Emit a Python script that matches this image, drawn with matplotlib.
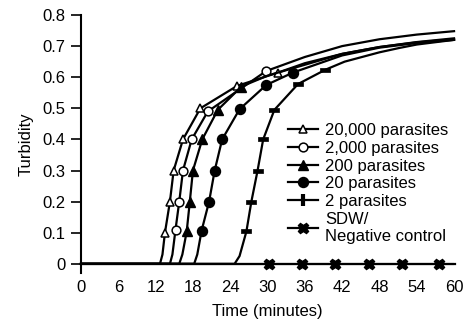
import matplotlib
matplotlib.use('Agg')
import matplotlib.pyplot as plt
from matplotlib.lines import Line2D

plt.rcParams['font.family'] = ['Liberation Sans', 'DejaVu Sans']
plt.rcParams['font.size'] = 12

# Datos (tiempo en minutos, turbidez)
t_20000 = [0, 12.7, 13.1, 13.5, 14.3, 14.9, 16.4, 19.2, 25.1, 31.7, 36, 42, 48, 54, 60]
y_20000 = [0, 0, 0.03, 0.10, 0.20, 0.30, 0.40, 0.50, 0.572, 0.615, 0.645, 0.675, 0.697, 0.713, 0.725]
m_20000 = [3, 4, 5, 6, 7, 8, 9]

t_2000 = [0, 14.3, 14.7, 15.2, 15.8, 16.4, 17.8, 20.4, 29.8, 36, 42, 48, 54, 60]
y_2000 = [0, 0, 0.03, 0.11, 0.20, 0.30, 0.40, 0.49, 0.62, 0.665, 0.70, 0.722, 0.737, 0.748]
m_2000 = [3, 4, 5, 6, 7, 8]

t_200 = [0, 15.8, 16.3, 17.0, 17.5, 18.0, 19.5, 22.0, 25.8, 30, 36, 42, 48, 54, 60]
y_200 = [0, 0, 0.03, 0.104, 0.20, 0.30, 0.40, 0.495, 0.57, 0.605, 0.64, 0.675, 0.697, 0.712, 0.722]
m_200 = [3, 4, 5, 6, 7, 8]

t_20 = [0, 18.2, 18.7, 19.4, 20.6, 21.5, 22.7, 25.5, 29.8, 34.1, 42, 48, 54, 60]
y_20 = [0, 0, 0.03, 0.107, 0.20, 0.30, 0.40, 0.497, 0.575, 0.615, 0.67, 0.695, 0.71, 0.72]
m_20 = [3, 4, 5, 6, 7, 8, 9]

t_2 = [0, 24.7, 25.5, 26.6, 27.4, 28.4, 29.3, 31.1, 34.9, 39.3, 42.4, 48, 51.2, 54, 60]
y_2 = [0, 0, 0.025, 0.104, 0.20, 0.30, 0.40, 0.495, 0.578, 0.624, 0.65, 0.68, 0.694, 0.705, 0.72]
m_2 = [3, 4, 5, 6, 7, 8, 9]

t_neg = [0, 30.3, 35.6, 40.9, 46.3, 51.6, 57.5, 60.2]
y_neg = [0, 0, 0, 0, 0, 0, 0, 0]
m_neg = [1, 2, 3, 4, 5, 6]

etiquetas = ['20,000 parasites', '2,000 parasites', '200 parasites',
             '20 parasites', '2 parasites', 'SDW/\nNegative control']

x_ticks = [0, 6, 12, 18, 24, 30, 36, 42, 48, 54, 60]
y_ticks = [0, 0.1, 0.2, 0.3, 0.4, 0.5, 0.6, 0.7, 0.8]
y_tick_labels = ['0', '0.1', '0.2', '0.3', '0.4', '0.5', '0.6', '0.7', '0.8']

# Marcador rectangular para "2 parasites"
dash = [(-1, -0.38), (1, -0.38), (1, 0.38), (-1, 0.38), (-1, -0.38)]

fig = plt.figure(figsize=(4.71, 3.26), dpi=100)
ax = fig.add_axes([0.172, 0.163, 0.792, 0.791])

lw = 1.6
estilos = [
    (t_20000, y_20000, m_20000, dict(marker='^', ms=6.3, mfc='white', mec='black', mew=1.1)),
    (t_2000, y_2000, m_2000, dict(marker='o', ms=6.3, mfc='white', mec='black', mew=1.1)),
    (t_200, y_200, m_200, dict(marker='^', ms=6.8, mfc='black', mec='black')),
    (t_20, y_20, m_20, dict(marker='o', ms=7.2, mfc='black', mec='black')),
    (t_2, y_2, m_2, dict(marker=dash, ms=7, mfc='black', mec='black', mew=0.5)),
]
for t, y, m, kw in estilos:
    ax.plot(t, y, color='black', lw=lw, markevery=m, clip_on=False, zorder=3, **kw)

ax.plot(t_neg, y_neg, color='black', lw=lw, marker='X', ms=7.5, mfc='black',
        mec='black', markevery=m_neg, clip_on=False, zorder=3)

# Ejes
ax.set_xlim(0, 60)
ax.set_ylim(-0.029, 0.8)
ax.set_xticks(x_ticks)
ax.set_yticks(y_ticks)
ax.set_yticklabels(y_tick_labels)
ax.tick_params(axis='x', length=0, pad=5, labelsize=12)
ax.tick_params(axis='y', length=7, width=1.2, pad=4, labelsize=12, direction='out')
for s in ['top', 'right', 'bottom']:
    ax.spines[s].set_visible(False)
ax.spines['left'].set_linewidth(1.5)
ax.axhline(0, color='black', lw=1.5, zorder=2)

ax.set_xlabel('Time (minutes)', fontsize=12)
ax.set_ylabel('Turbidity', fontsize=12)
ax.xaxis.set_label_coords(0.5, -0.122)
ax.yaxis.set_label_coords(-0.128, 0.5)

# Leyenda
handles = [
    Line2D([], [], color='black', lw=lw, marker='^', ms=6.3, mfc='white', mec='black', mew=1.1),
    Line2D([], [], color='black', lw=lw, marker='o', ms=6.3, mfc='white', mec='black', mew=1.1),
    Line2D([], [], color='black', lw=lw, marker='^', ms=6.8, mfc='black', mec='black'),
    Line2D([], [], color='black', lw=lw, marker='o', ms=7.2, mfc='black', mec='black'),
    Line2D([], [], color='black', lw=lw, marker='|', ms=8, mew=3, mec='black'),
    Line2D([], [], color='black', lw=lw, marker='X', ms=7.5, mfc='black', mec='black'),
]
ax.legend(handles, etiquetas, loc='upper left', bbox_to_anchor=(0.611, 0.622),
          bbox_transform=fig.transFigure, frameon=False, fontsize=12,
          handlelength=1.8, handletextpad=0.45, labelspacing=0.16,
          borderpad=0, borderaxespad=0)

plt.savefig('out.png', dpi=100)
